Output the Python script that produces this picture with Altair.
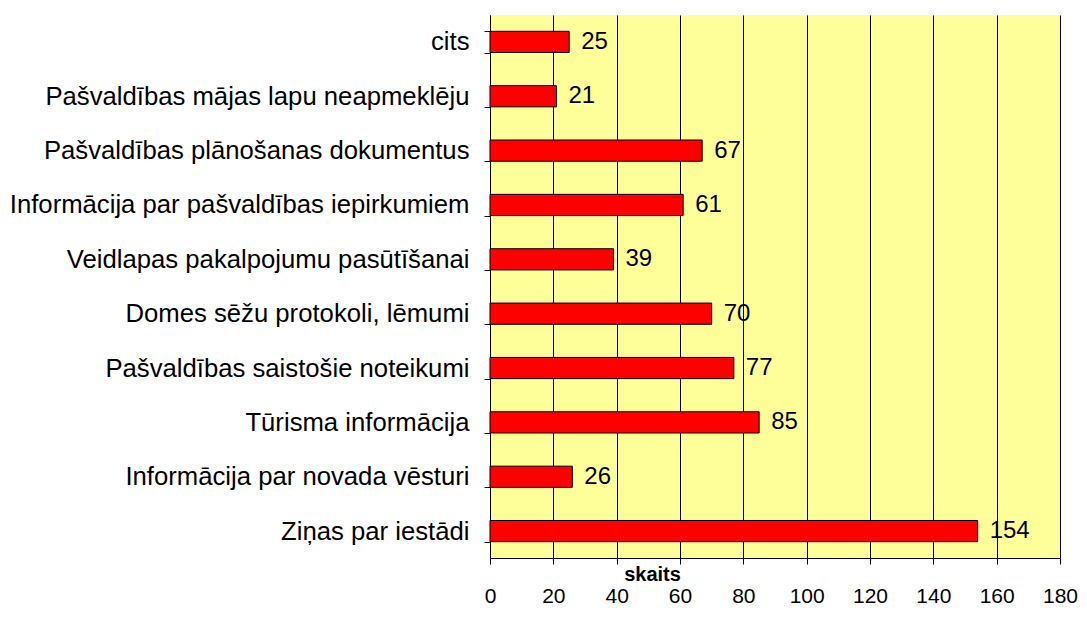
import altair as alt
import pandas as pd

categories = [
    "cits",
    "Pašvaldības mājas lapu neapmeklēju",
    "Pašvaldības plānošanas dokumentus",
    "Informācija par pašvaldības iepirkumiem",
    "Veidlapas pakalpojumu pasūtīšanai",
    "Domes sēžu protokoli, lēmumi",
    "Pašvaldības saistošie noteikumi",
    "Tūrisma informācija",
    "Informācija par novada vēsturi",
    "Ziņas par iestādi",
]
values = [25, 21, 67, 61, 39, 70, 77, 85, 26, 154]
x_ticks = [0, 20, 40, 60, 80, 100, 120, 140, 160, 180]

df = pd.DataFrame({"cat": categories, "val": values})

FONT = "Liberation Sans"

y_enc = alt.Y(
    "cat:N",
    sort=categories,
    scale=alt.Scale(paddingInner=0.61, paddingOuter=0.3),
    axis=alt.Axis(
        title=None,
        labelFontSize=25.7,
        labelFont=FONT,
        labelColor="black",
        labelPadding=15,
        tickSize=6,
        tickColor="black",
        tickBand="extent",
        domainColor="black",
        grid=False,
        labelLimit=600,
    ),
)

x_enc = alt.X(
    "val:Q",
    scale=alt.Scale(domain=[0, 180], nice=False),
    axis=alt.Axis(
        values=x_ticks,
        title="skaits",
        titleFont=FONT,
        titleFontSize=20,
        titleFontWeight="bold",
        titleColor="black",
        titleX=162,
        titleY=16,
        titleAlign="center",
        titleBaseline="middle",
        labelFontSize=21,
        labelFont=FONT,
        labelColor="black",
        labelPadding=21,
        labelFlush=False,
        labelOverlap=False,
        tickSize=6,
        tickColor="black",
        domainColor="black",
        grid=True,
        gridColor="black",
        gridOpacity=1,
        gridWidth=1,
    ),
)

bars = alt.Chart(df).mark_bar(color="#FF0000", stroke="black", strokeWidth=1).encode(
    x=x_enc, y=y_enc
)

labels = alt.Chart(df).mark_text(
    align="left", baseline="middle", dx=12, fontSize=24, font=FONT, color="black"
).encode(
    x=alt.X("val:Q"),
    y=alt.Y("cat:N", sort=categories),
    text=alt.Text("val:Q"),
)

chart = (
    alt.layer(bars, labels)
    .properties(
        width=570,
        height=543,
        autosize=alt.AutoSizeParams(type="none"),
        padding={"left": 482, "top": 7, "right": 19, "bottom": 52},
        background="white",
    )
    .configure_view(fill="#FFFF99", stroke=None)
)

chart.save("out.html", embed_options={"renderer": "svg", "actions": False})
